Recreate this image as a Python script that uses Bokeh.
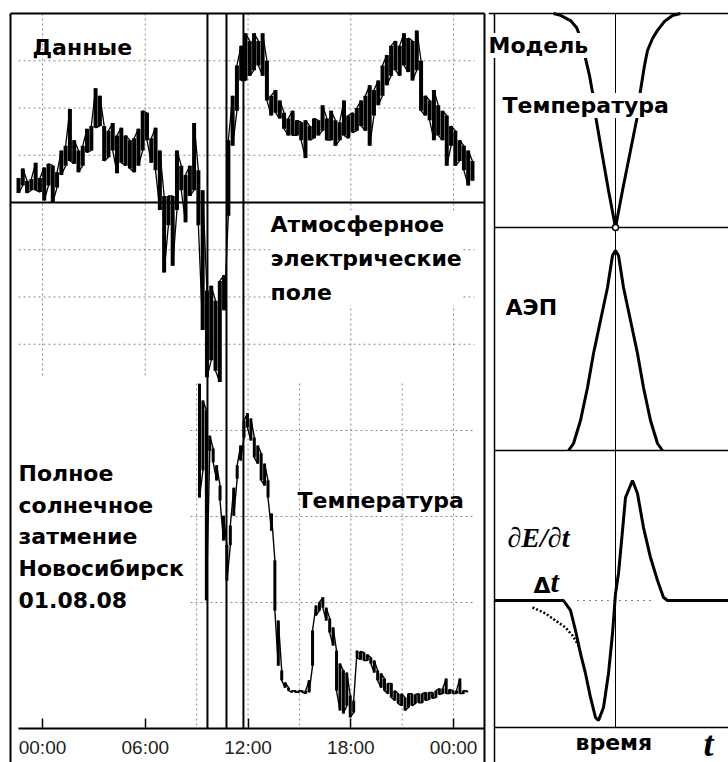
import numpy as np
from bokeh.plotting import figure
from bokeh.models import Range1d, LinearAxis, FixedTicker, Label
from bokeh.layouts import row
from bokeh.embed import file_html
from bokeh.resources import INLINE

# ---------------- data ----------------
# Atmospheric electric field, envelope of the noisy record (arbitrary units, 50 per grid step)
aep_start_h = -1.4          # UT hours of first sample
aep_step_h = 0.25
aep_high = [26, 36, 23, 25, 42, 26, 37, 41, 39, 32,
            55, 60, 99, 66, 55, 60, 78, 81, 121, 113,
            81, 76, 84, 71, 79, 71, 66, 68, 78, 97,
            95, 68, 79, 55, 7, 7, 7, 55, 39, 29,
            39, 84, 34, 13, -93, -88, -104, -83, -77, 66,
            113, 145, 166, 179, 171, 179, 171, 179, 150, 113,
            119, 108, 95, 89, 97, 87, 85, 87, 81, 89,
            87, 103, 89, 97, 87, 85, 108, 92, 95, 100,
            108, 113, 124, 119, 129, 145, 156, 166, 171, 166,
            179, 174, 171, 182, 150, 113, 108, 119, 103, 97,
            92, 81, 76, 66, 60, 55, 44]
aep_low = [10, 18, 10, 13, 13, 11, 2, 18, 0, 16,
           29, 39, 44, 41, 32, 39, 53, 55, 79, 81,
           44, 48, 55, 31, 42, 39, 36, 32, 39, 55,
           66, 42, 34, -8, -74, -24, -67, -8, 13, -21,
           7, 13, -24, -135, -185, -167, -178, -190, -114, -14,
           60, 97, 129, 129, 134, 140, 145, 134, 108, 92,
           95, 89, 78, 71, 71, 71, 66, 47, 66, 68,
           71, 76, 66, 66, 60, 66, 71, 68, 74, 76,
           81, 76, 60, 92, 103, 113, 124, 134, 140, 134,
           145, 138, 129, 140, 97, 92, 87, 66, 71, 66,
           39, 60, 39, 44, 34, 18, 23]

# Air temperature, envelope (deg C)
temp_start_h = 9.165
temp_step_h = 0.2
temp_high = [21.09, 20.70, 20.47, 19.88, 19.58, 19.19, 18.72, 18.02, 17.33, 17.79,
             18.67, 19.19, 19.65, 20.23, 20.40, 20.28, 19.84, 19.65, 19.47, 19.23,
             18.84, 18.07, 16.98, 15.58, 14.42, 14.14, 14.02, 13.95, 13.95, 13.95,
             13.95, 13.95, 14.19, 15.35, 15.93, 16.00, 16.12, 15.88, 15.63, 15.42,
             14.88, 14.58, 14.42, 14.37, 13.84, 13.72, 14.88, 14.86, 14.84, 14.79,
             14.72, 14.65, 14.42, 14.35, 14.23, 14.12, 14.12, 13.95, 13.88, 13.88,
             13.79, 13.88, 13.88, 13.86, 13.88, 13.88, 13.91, 13.91, 13.91, 13.95,
             14.00, 14.00, 14.23, 13.98, 13.95, 13.95, 14.23, 13.95, 13.95]
temp_low = [18.44, 19.07, 16.05, 19.53, 19.26, 18.84, 18.37, 17.44, 16.51, 17.33,
            18.02, 18.88, 19.30, 19.84, 20.07, 19.77, 19.37, 19.23, 18.84, 18.72,
            18.44, 17.67, 15.81, 14.53, 14.19, 14.02, 13.95, 13.91, 13.91, 13.91,
            13.91, 13.88, 13.91, 14.53, 15.70, 15.81, 15.88, 15.58, 15.30, 15.00,
            13.95, 13.49, 13.42, 13.60, 13.33, 13.44, 14.72, 14.67, 14.65, 14.65,
            14.58, 14.37, 14.19, 14.02, 13.95, 13.88, 13.79, 13.72, 13.65, 13.60,
            13.49, 13.56, 13.60, 13.65, 13.67, 13.67, 13.72, 13.74, 13.77, 13.79,
            13.86, 13.88, 13.88, 13.88, 13.88, 13.88, 13.88, 13.88, 13.91]

contact_hours = [9.63, 10.74, 11.73]
tick_hours = [0, 6, 12, 18, 24]
tick_labels = ["00:00", "06:00", "12:00", "18:00", "00:00"]
aep_grid_values = [150, 100, 50, -50, -100, -150]
temp_grid_values = [20, 18, 16]
temp_grid_hours = [9, 15, 21]

# Model curves (model time, normalised values)
model_temp_t = [-1.55, -1.375, -1.125, -0.975, -0.85, -0.75, -0.65, -0.575, -0.5, -0.35, -0.175, 0,
                0.175, 0.375, 0.55, 0.625, 0.725, 0.8, 0.925, 1.05, 1.225, 1.425, 1.625]
model_temp_v = [1.0, 0.991, 0.967, 0.935, 0.874, 0.79, 0.71, 0.631, 0.523, 0.36, 0.173, 0.0,
                0.173, 0.36, 0.523, 0.64, 0.757, 0.827, 0.883, 0.921, 0.963, 0.991, 1.0]
model_aep_t = [-1.175, -1.05, -0.875, -0.7, -0.55, -0.375, -0.2, -0.075, 0,
               0.075, 0.2, 0.375, 0.55, 0.7, 0.875, 1.05, 1.175]
model_aep_v = [0, 0.035, 0.15, 0.315, 0.485, 0.65, 0.815, 0.975, 1.0,
               0.975, 0.815, 0.65, 0.485, 0.315, 0.15, 0.035, 0]
model_dedt_t = [-3.025, -1.3, -1.125, -1.0, -0.875, -0.75, -0.625, -0.5, -0.425, -0.3, -0.175, -0.075,
                0, 0.075, 0.175, 0.25, 0.425, 0.55, 0.7, 0.875, 1.05, 1.2, 1.3, 2.9]
model_dedt_v = [0, 0, -0.083, -0.25, -0.442, -0.608, -0.808, -0.975, -1.0, -0.892, -0.608, -0.275,
                0.058, 0.225, 0.583, 0.858, 1.0, 0.892, 0.608, 0.358, 0.167, 0.025, 0, 0]
onset_t = [-2.075, -1.75, -1.5, -1.25, -1.075, -0.925, -0.85]
onset_v = [-0.058, -0.108, -0.167, -0.225, -0.292, -0.375, -0.458]
zero_dot_t = [-0.95, 1.0]
zero_dot_v = [0, 0]

# ---------------- layout helpers (screen position -> data) ----------------
PX_PER_H = 17.13
def hx(px): return (px - 42.0) / PX_PER_H
def av(py): return (202.0 - py) * 50.0 / 47.25
def tv(py): return 20.0 - (py - 430.0) / 43.0
def mt(px): return (px - 615.0) / 40.0
def my(py): return (227.0 - py) / 214.0
def ma(py): return (450.0 - py) / 200.0
def md(py): return (600.0 - py) / 120.0


def zigzag(t, hi, lo):
    xs, ys = [], []
    for i, (a, b, c) in enumerate(zip(t, hi, lo)):
        xs += [a, a]
        ys += [b, c] if i % 2 == 0 else [c, b]
    return xs, ys


def lab(fig, text, x, y, size="22px", font="DejaVu Sans", style="bold", bg=None,
        align="left", baseline="middle", **kw):
    L = Label(x=x, y=y, text=text, text_font=font, text_font_size=size,
              text_font_style=style, text_color="black", text_align=align,
              text_baseline=baseline, **kw)
    if bg:
        L.background_fill_color = bg
        L.background_fill_alpha = 1.0
    fig.add_layout(L)


GRID = dict(line_color="#8a8a8a", line_dash="2 3", line_width=1)
FRAME = dict(line_color="black", line_width=2)

# ---------------- left: data ----------------
aep_t = aep_start_h + aep_step_h * np.arange(len(aep_high))
temp_t = temp_start_h + temp_step_h * np.arange(len(temp_high))

left = figure(width=488, height=762, x_range=Range1d(hx(4), hx(488)),
              y_range=Range1d(av(762), av(11)), output_backend="svg",
              toolbar_location=None, x_axis_location=None, y_axis_location=None,
              min_border_left=4, min_border_right=0, min_border_top=11, min_border_bottom=0,
              outline_line_color=None, background_fill_color="white",
              border_fill_color="white")
left.extra_y_ranges = {"temp": Range1d(tv(762), tv(11))}
left.grid.visible = False

# grids
n = len(aep_grid_values)
left.segment(x0=[hx(18)] * n, x1=[hx(474)] * n, y0=aep_grid_values, y1=aep_grid_values, **GRID)
left.segment(x0=tick_hours, x1=tick_hours, y0=[av(13)] * 5,
             y1=[av(378), av(378), av(728), av(728), av(728)], **GRID)
m = len(temp_grid_hours)
left.segment(x0=temp_grid_hours, x1=temp_grid_hours, y0=[tv(383)] * m, y1=[tv(728)] * m,
             y_range_name="temp", **GRID)
k = len(temp_grid_values)
left.segment(x0=[hx(190)] * k, x1=[hx(474)] * k, y0=temp_grid_values, y1=temp_grid_values,
             y_range_name="temp", **GRID)

# frame lines
left.segment(x0=[hx(10), hx(484), hx(10), hx(10), hx(18)],
             x1=[hx(10), hx(484), hx(484), hx(484), hx(484)],
             y0=[av(13), av(13), av(13), 0, av(728)],
             y1=[av(762), av(762), av(13), 0, av(728)], **FRAME)

# eclipse contacts
c = len(contact_hours)
left.segment(x0=contact_hours, x1=contact_hours, y0=[av(13)] * c, y1=[av(728)] * c,
             line_color="black", line_width=2)

# noisy records: vertical envelope bars + zigzag trace
left.segment(x0=aep_t, x1=aep_t, y0=aep_low, y1=aep_high, line_color="black", line_width=4)
ax_, ay_ = zigzag(aep_t, aep_high, aep_low)
left.line(ax_, ay_, line_color="black", line_width=1.3)
left.segment(x0=temp_t, x1=temp_t, y0=temp_low, y1=temp_high, line_color="black",
             line_width=3, y_range_name="temp")
tx_, ty_ = zigzag(temp_t, temp_high, temp_low)
left.line(tx_, ty_, line_color="black", line_width=1.4, y_range_name="temp")

axis = LinearAxis(fixed_location=av(728), ticker=FixedTicker(ticks=tick_hours),
                  major_label_overrides={h: s for h, s in zip(tick_hours, tick_labels)},
                  axis_line_color=None, major_tick_line_color="black",
                  major_tick_line_width=1.5, major_tick_in=10, major_tick_out=0,
                  minor_tick_line_color=None, major_label_standoff=8,
                  major_label_text_font="Liberation Sans",
                  major_label_text_font_size="19px", major_label_text_color="#222222")
left.add_layout(axis, "below")

lab(left, "Данные", hx(32), av(47))
lab(left, "Атмосферное\nэлектрические\nполе", hx(270), av(258), bg="white",
    text_line_height=1.36)
lab(left, "Температура", hx(297), av(500))
for i, line_text in enumerate(["Полное", "солнечное", "затмение", "Новосибирск", "01.08.08"]):
    lab(left, line_text, hx(18), av(473 + 31.7 * i))

# ---------------- right: model ----------------
right = figure(width=240, height=762, x_range=Range1d(mt(488), mt(728)),
               y_range=Range1d(my(762), my(11)), output_backend="svg",
               toolbar_location=None, x_axis_location=None, y_axis_location=None,
               min_border_left=0, min_border_right=0, min_border_top=11, min_border_bottom=0,
               outline_line_color=None, background_fill_color="white",
               border_fill_color="white")
right.extra_y_ranges = {"aep": Range1d(ma(762), ma(11)), "dedt": Range1d(md(762), md(11))}
right.grid.visible = False

right.segment(x0=[mt(494)], x1=[mt(494)], y0=[my(13)], y1=[my(762)], line_color="black", line_width=1.5)
right.segment(x0=[mt(488), mt(494), mt(494), mt(494)], x1=[mt(730)] * 4,
              y0=[my(13), my(227), my(450), my(727)], y1=[my(13), my(227), my(450), my(727)],
              line_color="black", line_width=1.5)
right.segment(x0=[0], x1=[0], y0=[my(13)], y1=[my(727)], line_color="black", line_width=1)

right.line(model_temp_t, model_temp_v, line_color="black", line_width=3)
right.scatter([0], [0], size=6, marker="circle", fill_color="white", line_color="black", line_width=1.5)
right.line(model_aep_t, model_aep_v, line_color="black", line_width=3, y_range_name="aep")
right.line(zero_dot_t, zero_dot_v, line_color="black", line_width=1, line_dash="1 5",
           y_range_name="dedt")
right.line(onset_t, onset_v, line_color="black", line_width=2.5, line_dash="2 2",
           y_range_name="dedt")
right.line(model_dedt_t, model_dedt_v, line_color="black", line_width=3, y_range_name="dedt")

lab(right, "Модель", mt(488), my(45), bg="white")
lab(right, "Температура", mt(502), my(105), bg="white")
lab(right, "АЭП", mt(505), my(307))
lab(right, "∂E/∂t", mt(507), my(537), size="28px", font="Liberation Serif", style="bold italic")
lab(right, "Δ", mt(533), my(585), size="22px")
lab(right, "t", mt(550), my(581), size="30px", font="Liberation Serif", style="bold italic")
lab(right, "время", mt(575), my(742))
lab(right, "t", mt(703), my(743), size="36px", font="Liberation Serif", style="bold italic")

layout = row(left, right)
open("out.html", "w").write(file_html(layout, INLINE))
